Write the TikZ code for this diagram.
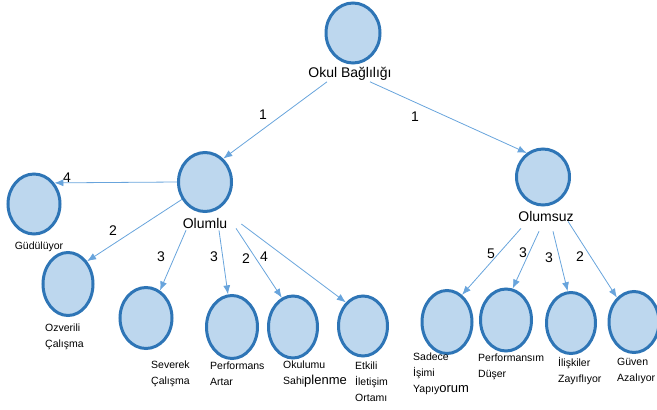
\documentclass[tikz,border=0pt]{standalone}
\usepackage{fontspec}
\setmainfont{Liberation Sans}
\usetikzlibrary{shapes.geometric,arrows.meta}
\definecolor{circfill}{RGB}{189,215,238}
\definecolor{circline}{RGB}{46,117,182}
\definecolor{arrblue}{RGB}{104,164,220}
\begin{document}
\begin{tikzpicture}[x=1pt,y=-1pt,
  bubble/.style={ellipse,draw=circline,fill=circfill,line width=3pt,minimum width=50pt,minimum height=60pt,inner sep=0pt},
  biglbl/.style={inner sep=0pt,font=\fontsize{14}{16}\selectfont},
  smalllbl/.style={inner sep=0pt,anchor=west,align=left,font=\fontsize{10.5}{16}\selectfont},
  num/.style={inner sep=0pt,font=\fontsize{14}{16}\selectfont},
  arr/.style={draw=arrblue,line width=0.8pt,-{Latex[length=9pt,width=7pt]}}]
\useasboundingbox (0,0) rectangle (657,410);

% top
\node[bubble,minimum width=54pt] (root) at (353,33) {};
\node[biglbl] (rootlbl) at (350,74) {Okul Bağlılığı};

% second level
\node[bubble,minimum width=53pt,minimum height=59pt] (olumlu) at (205,182) {};
\node[biglbl] (olumlulbl) at (205,223) {Olumlu};
\node[bubble,minimum width=53pt,minimum height=56pt] (olumsuz) at (543,177) {};
\node[biglbl] (olumsuzlbl) at (546,216) {Olumsuz};

% leaves, Olumlu side
\node[bubble,minimum width=52pt] (gudu) at (34,204) {};
\node[smalllbl,anchor=center] (gudulbl) at (39,247) {Güdülüyor};
\node[bubble,minimum height=63pt] (ozveri) at (68,284) {};
\node[smalllbl] (ozverilbl) at (45,337) {Ozverili\\Çalışma};
\node[bubble,minimum width=52pt,minimum height=61pt] (severek) at (146,318) {};
\node[smalllbl] (severeklbl) at (151,374) {Severek\\Çalışma};
\node[bubble,minimum width=51pt,minimum height=63pt] (perf) at (232,327) {};
\node[smalllbl] (perflbl) at (210,374) {Performans\\Artar};
\node[bubble,minimum width=49pt,minimum height=62pt] (sahip) at (293,327) {};
\node[smalllbl] (sahiplbl) at (283,374) {Okulumu\\Sahi{\fontsize{13}{16}\selectfont plenme}};
\node[bubble,minimum width=49pt] (etkili) at (363,326) {};
\node[smalllbl] (etkililbl) at (355,382) {Etkili\\İletişim\\Ortamı};

% leaves, Olumsuz side
\node[bubble,minimum height=63pt] (sadece) at (447,322) {};
\node[smalllbl] (sadecelbl) at (413,374) {Sadece\\İşimi\\Yapıy{\fontsize{13}{16}\selectfont orum}};
\node[bubble,minimum width=51pt,minimum height=62pt] (dusur) at (506,320) {};
\node[smalllbl] (dusurlbl) at (478,367) {Performansım\\Düşer};
\node[bubble,minimum width=49pt,minimum height=61pt] (iliski) at (571,323) {};
\node[smalllbl] (iliskilbl) at (558,371) {İlişkiler\\Zayıflıyor};
\node[bubble,minimum height=61pt] (guven) at (634,322) {};
\node[smalllbl] (guvenlbl) at (617,371) {Güven\\Azalıyor};

% arrows
\draw[arr] ([xshift=-23pt,yshift=-1pt]rootlbl.south) -- (olumlu.52);
\draw[arr] ([xshift=20pt,yshift=-1pt]rootlbl.south) -- (olumsuz.124);
\draw[arr] (olumlu.180) -- (gudu.46);
\draw[arr] (olumlu.217) -- (ozveri.50);
\draw[arr] ([xshift=-19pt,yshift=-2pt]olumlulbl.south) -- (severek.63);
\draw[arr] ([xshift=14pt,yshift=-2pt]olumlulbl.south) -- (perf.97);
\draw[arr] ([xshift=31pt]olumlulbl.south) -- (sahip.111);
\draw[arr] ([xshift=14pt,yshift=-1pt]olumlulbl.east) -- (etkili.126);
\draw[arr] ([xshift=-25pt,yshift=-7pt]olumsuzlbl.south) -- (sadece.61);
\draw[arr] ([xshift=-7pt,yshift=-10pt]olumsuzlbl.south) -- (dusur.78);
\draw[arr] ([xshift=7pt,yshift=-10pt]olumsuzlbl.south) -- (iliski.96);
\draw[arr] ([xshift=22pt]olumsuzlbl.south) -- (guven.125);

% weights
\node[num] (w1) at (263,115) {1};
\node[num] (w2) at (415,117) {1};
\node[num] (w3) at (67,178) {4};
\node[num] (w4) at (113,231) {2};
\node[num] (w5) at (161,257) {3};
\node[num] (w6) at (214,257) {3};
\node[num] (w7) at (246,259) {2};
\node[num] (w8) at (264,257) {4};
\node[num] (w9) at (491,254) {5};
\node[num] (w10) at (523,253) {3};
\node[num] (w11) at (549,258) {3};
\node[num] (w12) at (580,257) {2};
\end{tikzpicture}
\end{document}
